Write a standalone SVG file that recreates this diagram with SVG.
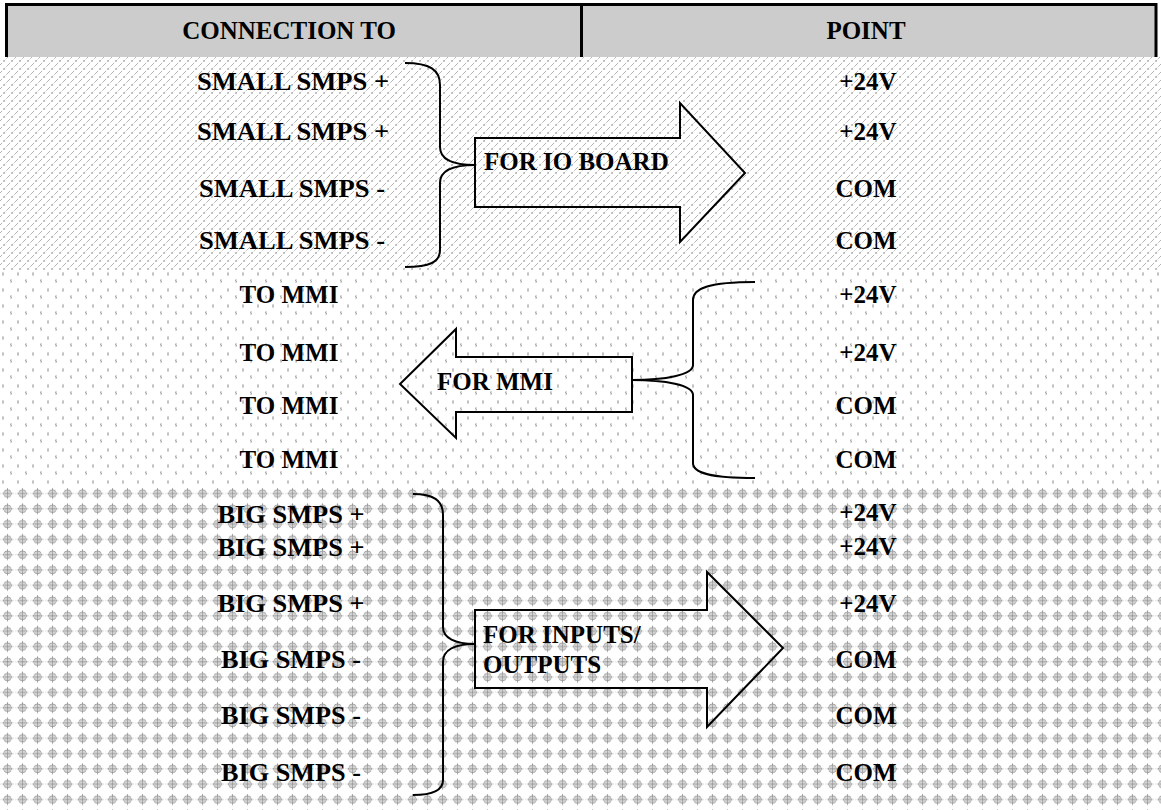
<svg xmlns="http://www.w3.org/2000/svg" width="1161" height="810" viewBox="0 0 1161 810">
<defs>
<pattern id="weave" x="0" y="57" width="16" height="8" patternUnits="userSpaceOnUse">
<path d="M0,8 L8,0 M8,8 L16,0" stroke="#a0a0a0" stroke-width="0.8" stroke-dasharray="3,1.5" fill="none"/>
<path d="M3,3 l2,2 M11,3 l2,2" stroke="#b0b0b0" stroke-width="0.7" fill="none"/>
</pattern>
<pattern id="dots" x="0" y="270" width="15" height="16" patternUnits="userSpaceOnUse">
<path d="M3,2 v4 M2,4 h2 M10,10 l2,2 M11,9 v4" stroke="#a0a0a0" stroke-width="0.8" fill="none"/>
</pattern>
<pattern id="cross" x="0" y="486" width="15" height="15.3" patternUnits="userSpaceOnUse">
<path d="M0,7.5 H15" stroke="#d0d0d0" stroke-width="0.8" stroke-dasharray="1.5,1" fill="none"/>
<circle cx="7.5" cy="7.5" r="3.8" stroke="#9a9a9a" stroke-width="0.8" fill="#ffffff"/>
<path d="M7.5,2 V13 M2.5,7.5 H12.5 M6,4 V11 M9,4 V11" stroke="#777777" stroke-width="0.6" fill="none"/>
</pattern>
<style>
.c{text-anchor:middle}
.ln{fill:none;stroke:#000;stroke-width:2}
</style>
</defs>
<rect x="0" y="0" width="1161" height="810" fill="#ffffff"/>
<rect x="0" y="57" width="1161" height="213" fill="url(#weave)"/>
<rect x="0" y="270" width="1161" height="216" fill="url(#dots)"/>
<rect x="0" y="486" width="1161" height="324" fill="url(#cross)"/>

<g font-family="'Liberation Serif', 'Times New Roman', serif" font-weight="bold" font-size="25" fill="#000">
<g id="header">
<rect x="5" y="4" width="1152" height="53" fill="#cccccc"/>
<path d="M5,4.5 H1157 M6.5,3 V57 M581.5,3 V57 M1156,3 V57" stroke="#000" stroke-width="3" fill="none"/>
<text class="c" x="289" y="39">CONNECTION TO</text>
<text class="c" x="866" y="39">POINT</text>
</g>

<g id="left-labels">
<text class="c" x="293" y="90" textLength="192" lengthAdjust="spacingAndGlyphs">SMALL SMPS +</text>
<text class="c" x="293" y="140" textLength="192" lengthAdjust="spacingAndGlyphs">SMALL SMPS +</text>
<text class="c" x="292" y="197" textLength="186" lengthAdjust="spacingAndGlyphs">SMALL SMPS -</text>
<text class="c" x="292" y="249" textLength="186" lengthAdjust="spacingAndGlyphs">SMALL SMPS -</text>
<text class="c" x="289" y="303">TO MMI</text>
<text class="c" x="289" y="361">TO MMI</text>
<text class="c" x="289" y="414">TO MMI</text>
<text class="c" x="289" y="468">TO MMI</text>
<text class="c" x="291" y="523" textLength="147" lengthAdjust="spacingAndGlyphs">BIG SMPS +</text>
<text class="c" x="291" y="556" textLength="147" lengthAdjust="spacingAndGlyphs">BIG SMPS +</text>
<text class="c" x="291" y="612" textLength="147" lengthAdjust="spacingAndGlyphs">BIG SMPS +</text>
<text class="c" x="291" y="668" textLength="140" lengthAdjust="spacingAndGlyphs">BIG SMPS -</text>
<text class="c" x="291" y="724" textLength="140" lengthAdjust="spacingAndGlyphs">BIG SMPS -</text>
<text class="c" x="291" y="781" textLength="140" lengthAdjust="spacingAndGlyphs">BIG SMPS -</text>
</g>

<g id="right-labels">
<text class="c" x="868" y="90">+24V</text>
<text class="c" x="868" y="140">+24V</text>
<text class="c" x="866" y="197">COM</text>
<text class="c" x="866" y="249">COM</text>
<text class="c" x="868" y="303">+24V</text>
<text class="c" x="868" y="361">+24V</text>
<text class="c" x="866" y="414">COM</text>
<text class="c" x="866" y="468">COM</text>
<text class="c" x="868" y="521">+24V</text>
<text class="c" x="868" y="555">+24V</text>
<text class="c" x="868" y="612">+24V</text>
<text class="c" x="866" y="668">COM</text>
<text class="c" x="866" y="724">COM</text>
<text class="c" x="866" y="781">COM</text>
</g>

<g id="connectors">
<path class="ln" d="M405,63 C430,63 440,70 440,85 V147 C440,160 455,165 475,165 C455,165 440,170 440,183 V250 C440,262 430,267 405,267"/>
<path class="ln" d="M755,282 C710,282 693,288 693,300 V365 C693,375 665,380 632,380 C665,380 693,385 693,395 V463 C693,473 710,478 755,478"/>
<path class="ln" d="M413,494 C433,494 443,500 443,515 V627 C443,638 455,644 475,644 C455,644 443,650 443,662 V780 C443,790 433,795 413,795"/>
</g>

<g id="arrow-io">
<polygon class="ln" points="475,138 680,138 680,103 745,173 680,242 680,207 475,207"/>
<text x="484" y="170">FOR IO BOARD</text>
</g>

<g id="arrow-mmi">
<polygon class="ln" points="632,357 456,357 456,329 400,384 456,438 456,412 632,412"/>
<text x="437" y="390">FOR MMI</text>
</g>

<g id="arrow-io-outputs">
<polygon class="ln" points="475,610 707,610 707,572 783,648 707,727 707,688 475,688"/>
<text x="483" y="643">FOR INPUTS/</text>
<text x="483" y="673">OUTPUTS</text>
</g>
</g>
</svg>
